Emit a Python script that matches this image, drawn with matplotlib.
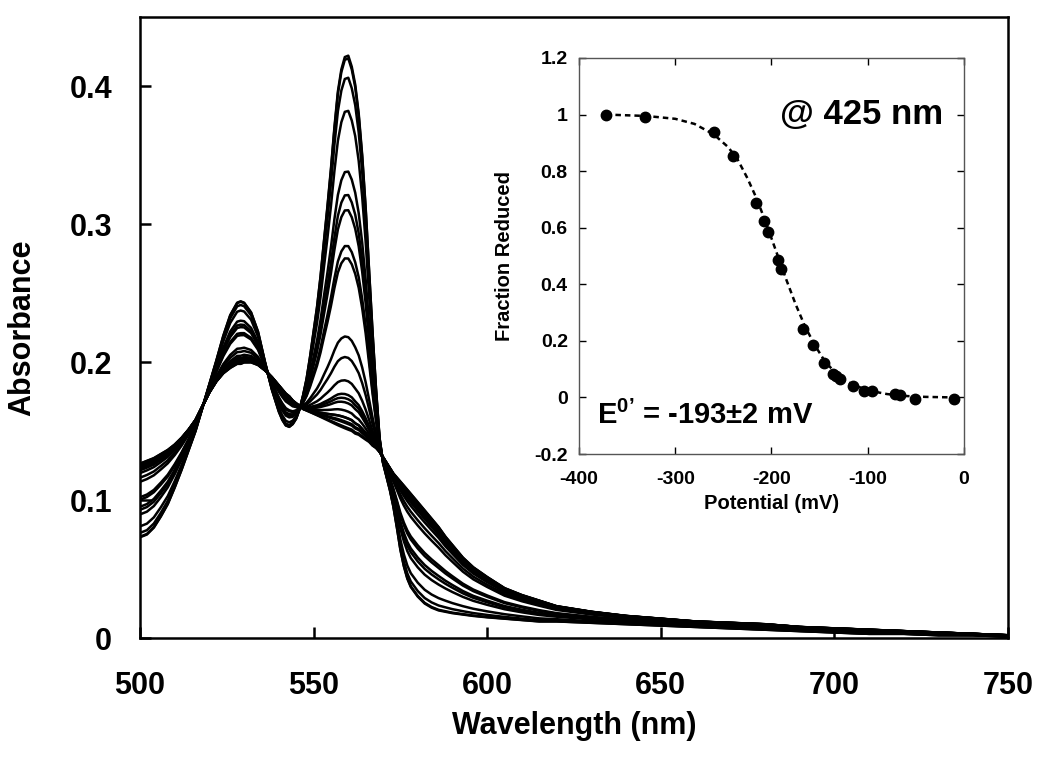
import numpy as np
import matplotlib
matplotlib.use("Agg")
import matplotlib.pyplot as plt

plt.rcParams['font.family'] = ['Liberation Sans', 'DejaVu Sans']
plt.rcParams['mathtext.fontset'] = 'custom'
plt.rcParams['mathtext.rm'] = 'Liberation Sans:bold'
plt.rcParams['mathtext.bf'] = 'Liberation Sans:bold'
plt.rcParams['axes.unicode_minus'] = False

# ---------------- data: main spectra ----------------
wavelength = [500, 502, 504, 506, 508, 510, 512, 514, 516, 518, 520, 522, 524, 526, 528, 529, 530,
              532, 534, 536, 538, 540, 541, 542, 543, 544, 545, 546, 547, 548, 549, 550, 551, 552,
              553, 554, 555, 556, 557, 558, 559, 560, 561, 562, 563, 564, 565, 566, 567, 568, 569,
              570, 571, 572, 573, 574, 575, 576, 577, 578, 580, 582, 584, 586, 588, 590, 593, 596,
              600, 605, 610, 615, 620, 630, 640, 650, 660, 670, 680, 690, 700, 710, 720, 730, 740, 750]

# fully reduced spectrum
abs_reduced = [0.073, 0.075, 0.080, 0.088, 0.097, 0.109, 0.122, 0.136, 0.150, 0.167, 0.184, 0.201,
               0.219, 0.234, 0.243, 0.244, 0.243, 0.236, 0.222, 0.200, 0.180, 0.164, 0.158, 0.154,
               0.153, 0.155, 0.159, 0.166, 0.176, 0.188, 0.204, 0.222, 0.240, 0.262, 0.288, 0.313,
               0.340, 0.370, 0.396, 0.412, 0.421, 0.422, 0.414, 0.401, 0.380, 0.350, 0.312, 0.266,
               0.221, 0.180, 0.145, 0.127, 0.117, 0.107, 0.095, 0.080, 0.064, 0.052, 0.043, 0.037,
               0.030, 0.025, 0.022, 0.020, 0.019, 0.018, 0.017, 0.016, 0.015, 0.014, 0.013, 0.012,
               0.012, 0.011, 0.010, 0.009, 0.008, 0.007, 0.006, 0.005, 0.004, 0.003, 0.003, 0.002,
               0.002, 0.001]

# fully oxidized spectrum
abs_oxidized = [0.126, 0.128, 0.130, 0.133, 0.136, 0.140, 0.145, 0.151, 0.158, 0.168, 0.178, 0.186,
                0.192, 0.196, 0.199, 0.199, 0.200, 0.200, 0.198, 0.194, 0.189, 0.183, 0.180, 0.177,
                0.175, 0.172, 0.170, 0.168, 0.166, 0.165, 0.164, 0.163, 0.162, 0.161, 0.160, 0.159,
                0.158, 0.157, 0.156, 0.155, 0.154, 0.153, 0.152, 0.150, 0.149, 0.147, 0.145, 0.143,
                0.140, 0.138, 0.135, 0.131, 0.127, 0.123, 0.119, 0.116, 0.113, 0.110, 0.107, 0.104,
                0.098, 0.092, 0.086, 0.080, 0.073, 0.067, 0.058, 0.051, 0.044, 0.036, 0.031, 0.027,
                0.023, 0.019, 0.016, 0.014, 0.012, 0.011, 0.010, 0.008, 0.007, 0.006, 0.005, 0.004,
                0.003, 0.002]

# absorbance at 560 nm of each recorded spectrum (read from the peaks)
peak_560 = [0.422, 0.420, 0.406, 0.382, 0.338, 0.321, 0.310, 0.284, 0.275, 0.218, 0.203,
            0.186, 0.176, 0.173, 0.170, 0.164, 0.159, 0.159, 0.156, 0.155, 0.152, 0.151]

# ---------------- data: inset ----------------
potential = [-372, -331, -260, -240, -216, -208, -204, -193, -190, -167, -157, -145,
             -136, -133, -129, -115, -104, -96, -72, -66, -51, -10]
fraction = [1.000, 0.993, 0.940, 0.853, 0.689, 0.624, 0.585, 0.487, 0.453, 0.241, 0.187,
            0.121, 0.084, 0.075, 0.064, 0.040, 0.023, 0.023, 0.011, 0.007, -0.004, -0.007]

fit_potential = [-372, -330, -300, -280, -260, -245, -235, -225, -215, -205, -195, -185,
                 -175, -165, -155, -145, -135, -125, -115, -100, -80, -60, -40, -10]
fit_fraction = [1.000, 0.995, 0.985, 0.967, 0.930, 0.885, 0.840, 0.775, 0.700, 0.610, 0.515,
                0.420, 0.330, 0.250, 0.185, 0.130, 0.092, 0.062, 0.045, 0.025, 0.012, 0.005,
                0.002, 0.000]

# ---------------- figure ----------------
fig = plt.figure(figsize=(10.5, 7.6), dpi=100)
ax = fig.add_axes([0.1333, 0.1605, 0.8267, 0.8171])

wl = np.array(wavelength)
red = np.array(abs_reduced)
ox = np.array(abs_oxidized)
i560 = wavelength.index(560)
for a in peak_560:
    f = (a - ox[i560]) / (red[i560] - ox[i560])
    ax.plot(wl, ox + f * (red - ox), color='black', lw=1.8)

ax.set_xlim(500, 750)
ax.set_ylim(0, 0.45)
ax.set_xticks([500, 550, 600, 650, 700, 750])
ax.set_yticks([0, 0.1, 0.2, 0.3, 0.4])
ax.set_yticklabels(['0', '0.1', '0.2', '0.3', '0.4'])
ax.tick_params(direction='in', length=8, width=1.8, top=False, right=False)
ax.tick_params(axis='x', labelsize=22, pad=24)
ax.tick_params(axis='y', labelsize=22, pad=20)
for lab in ax.get_xticklabels() + ax.get_yticklabels():
    lab.set_fontweight('bold')
for s in ax.spines.values():
    s.set_linewidth(1.8)
ax.set_xlabel('Wavelength (nm)', fontsize=22, fontweight='bold')
ax.set_ylabel('Absorbance', fontsize=22, fontweight='bold')
ax.xaxis.set_label_coords(0.5, -0.117)
ax.yaxis.set_label_coords(-0.118, 0.5)

# ---------------- inset ----------------
ins = fig.add_axes([0.5514, 0.4026, 0.3667, 0.5211])
ins.plot(fit_potential, fit_fraction, color='black', lw=1.8, ls=(0, (2.2, 1.6)))
ins.plot(potential, fraction, 'o', color='black', ms=7.5)
ins.set_xlim(-400, 0)
ins.set_ylim(-0.2, 1.2)
ins.set_xticks([-400, -300, -200, -100, 0])
ins.set_yticks([-0.2, 0, 0.2, 0.4, 0.6, 0.8, 1.0, 1.2])
ins.set_yticklabels(['-0.2', '0', '0.2', '0.4', '0.6', '0.8', '1', '1.2'])
ins.tick_params(direction='in', length=5, width=1, top=True, right=True,
                labelsize=14)
ins.tick_params(axis='x', pad=12)
ins.tick_params(axis='y', pad=8)
for lab in ins.get_xticklabels() + ins.get_yticklabels():
    lab.set_fontweight('bold')
for s in ins.spines.values():
    s.set_linewidth(1.0)
    s.set_color('#555555')
ins.set_xlabel('Potential (mV)', fontsize=14.5, fontweight='bold')
ins.set_ylabel('Fraction Reduced', fontsize=14.5, fontweight='bold')
ins.xaxis.set_label_coords(0.5, -0.1)
ins.yaxis.set_label_coords(-0.17, 0.5)
ins.text(-22, 1.0, '@ 425 nm', fontsize=25, fontweight='bold', ha='right', va='center')
ins.text(-381, -0.062, 'E$^{\\mathregular{0\u2019}}$ = -193\u00b12 mV', fontsize=21,
         fontweight='bold', ha='left', va='center')

fig.savefig('out.png', dpi=100)
